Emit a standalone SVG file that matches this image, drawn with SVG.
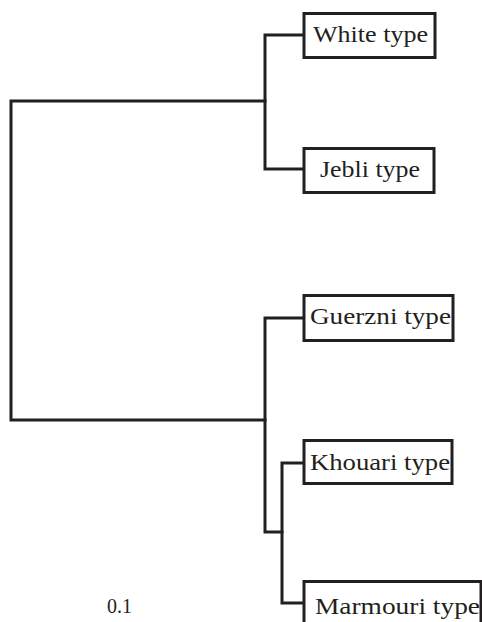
<svg xmlns="http://www.w3.org/2000/svg" width="482" height="622" viewBox="0 0 482 622">
<style>
.ln{fill:none;stroke:#231f20;stroke-width:3;stroke-linecap:square}
.bx{fill:#fff;stroke:#231f20;stroke-width:3}
.t{font-family:"Liberation Serif","Times New Roman",serif;font-size:24px;fill:#231f20}
</style>
<rect width="482" height="622" fill="#fff"/>
<g id="connectors">
<path class="ln" d="M265,101 H11 V420 H265"/>
<path class="ln" d="M304,35 H265 V169 H304"/>
<path class="ln" d="M304,318 H265 V532 H282"/>
<path class="ln" d="M304,463 H282 V603 H304"/>
</g>
<g id="white"><rect class="bx" x="304" y="13.5" width="131" height="44"/><text class="t" x="313" y="42" textLength="115" lengthAdjust="spacingAndGlyphs">White type</text></g>
<g id="jebli"><rect class="bx" x="304" y="148.5" width="130" height="44"/><text class="t" x="320" y="177" textLength="100" lengthAdjust="spacingAndGlyphs">Jebli type</text></g>
<g id="guerzni"><rect class="bx" x="304" y="295.5" width="149" height="45"/><text class="t" x="310" y="324" textLength="141" lengthAdjust="spacingAndGlyphs">Guerzni type</text></g>
<g id="khouari"><rect class="bx" x="304" y="440.5" width="148" height="43"/><text class="t" x="310" y="470" textLength="140" lengthAdjust="spacingAndGlyphs">Khouari type</text></g>
<g id="marmouri"><rect class="bx" x="304" y="581.5" width="177" height="45"/><text class="t" x="315" y="614" textLength="165" lengthAdjust="spacingAndGlyphs">Marmouri type</text></g>
<g id="scale"><text class="t" x="107" y="613" style="font-size:20px">0.1</text></g>
</svg>
